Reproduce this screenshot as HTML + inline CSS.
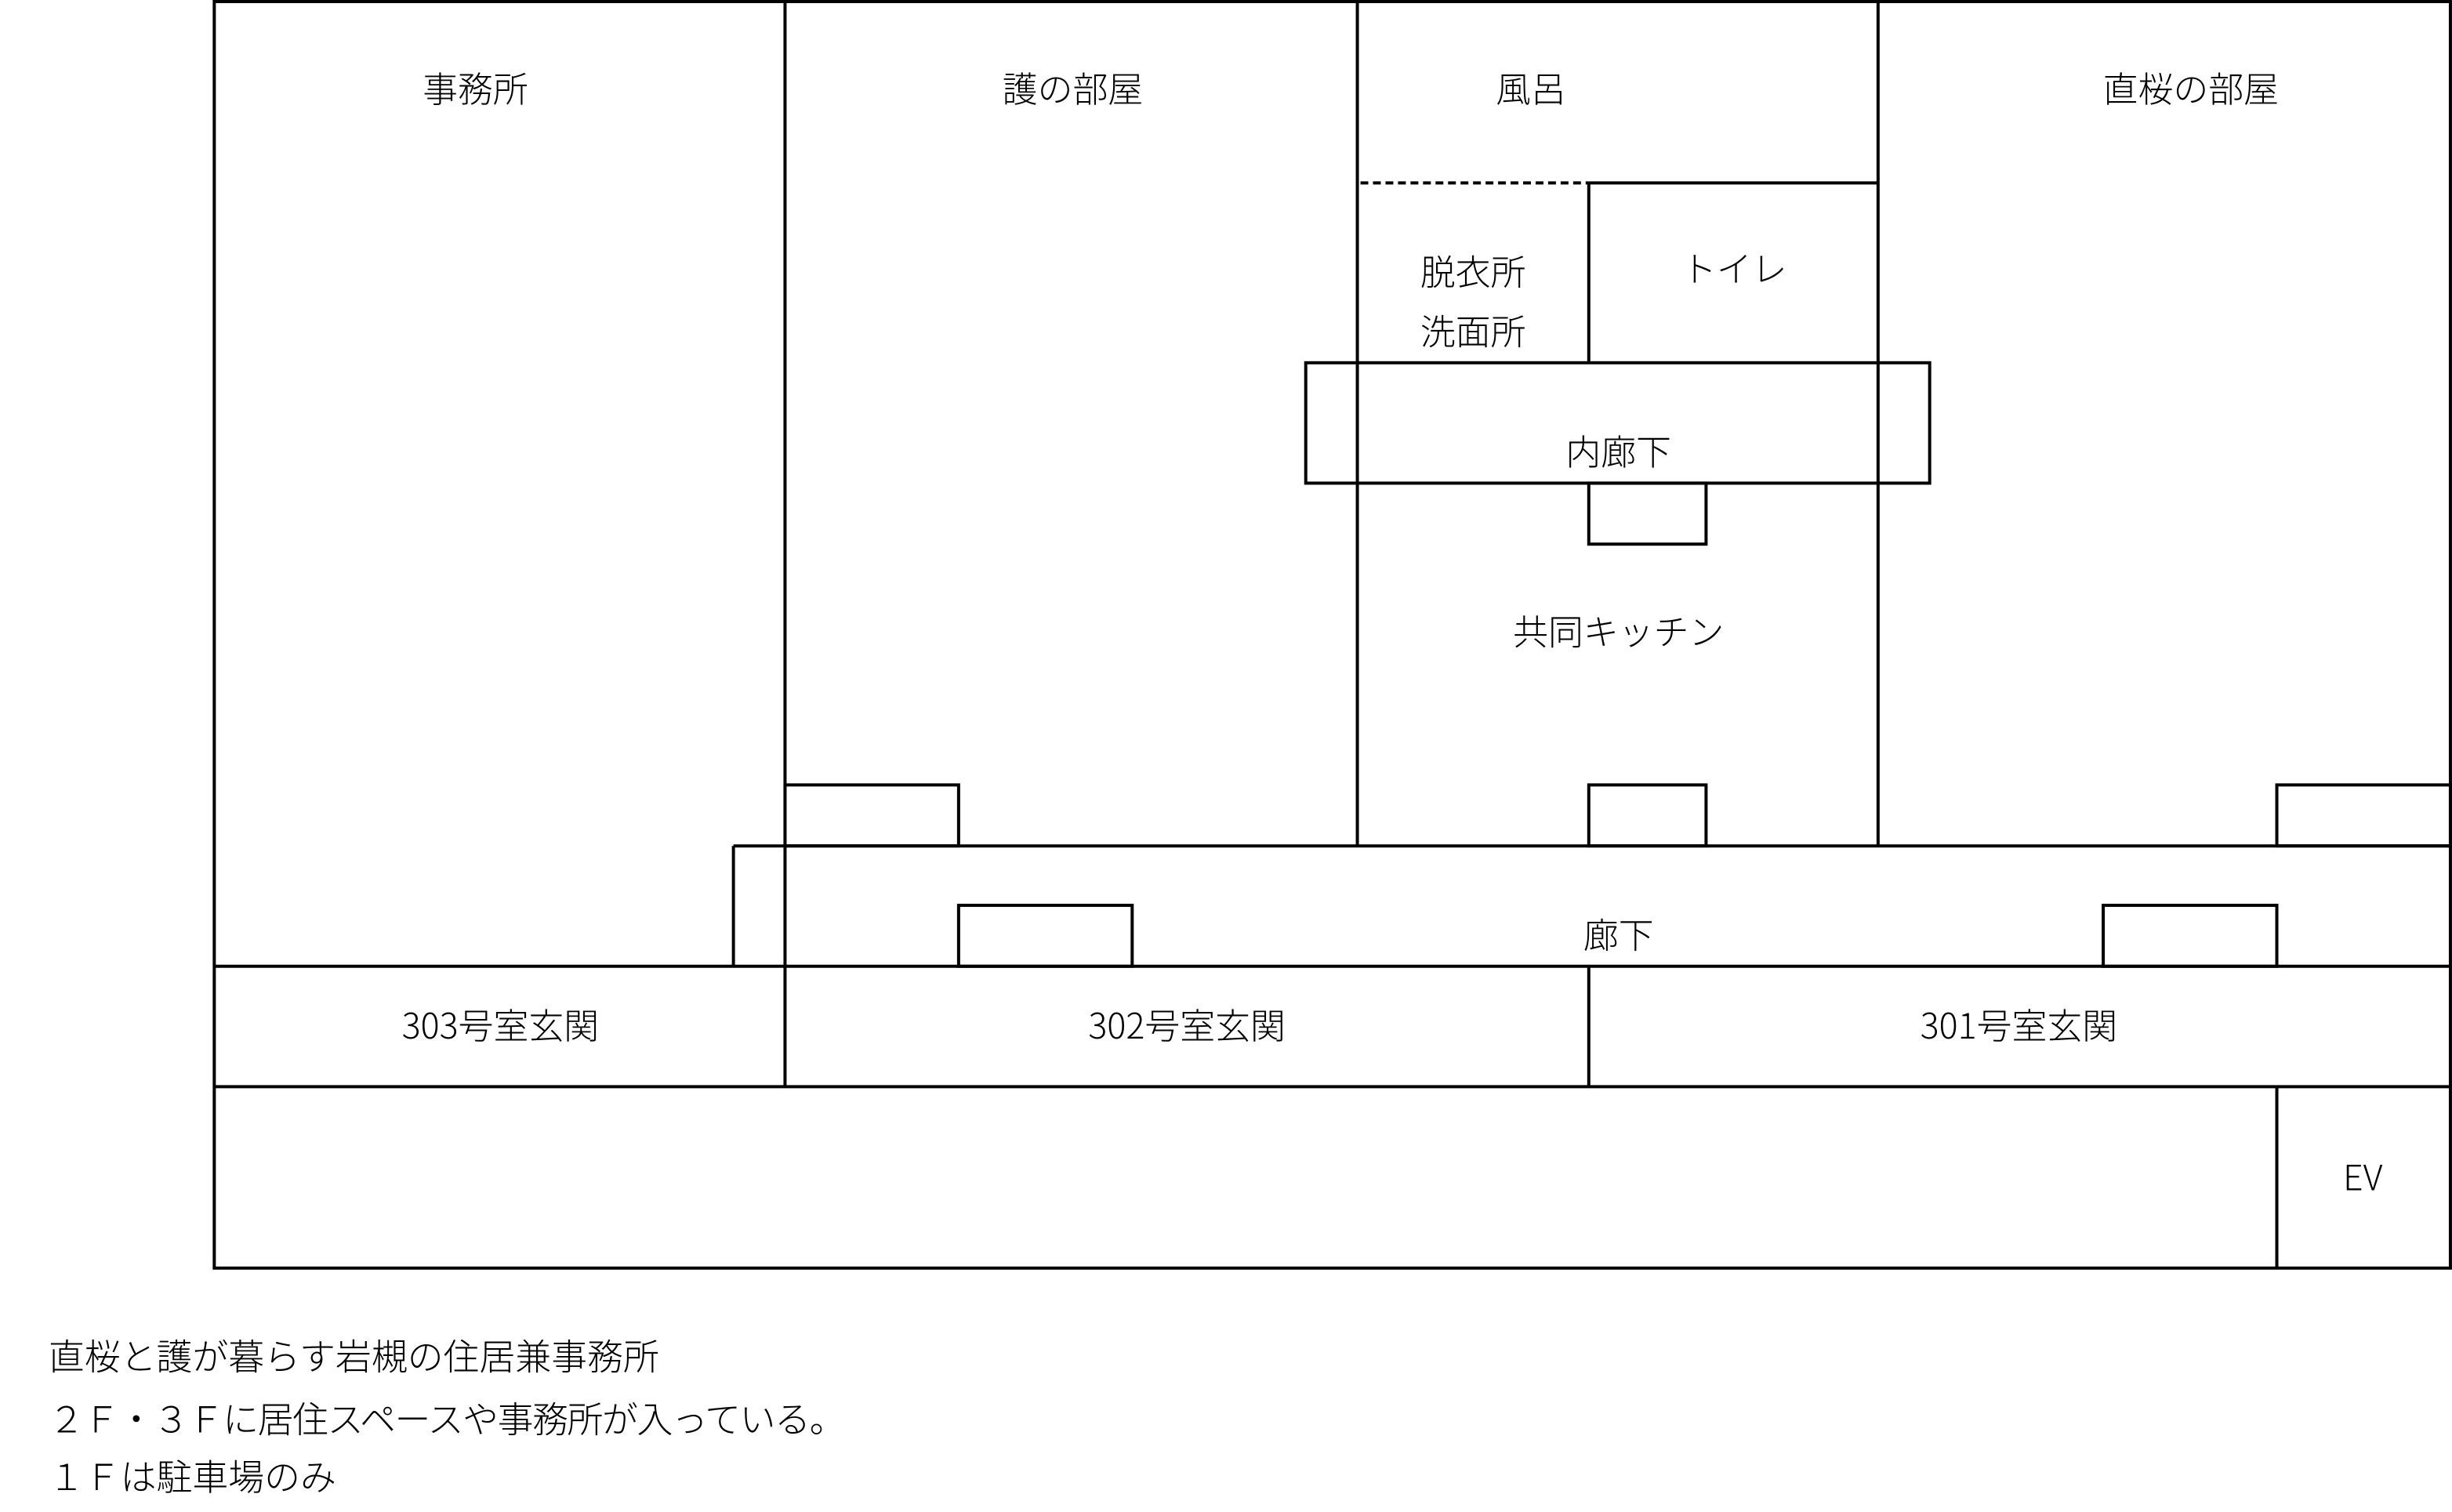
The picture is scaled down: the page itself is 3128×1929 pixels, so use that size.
<!DOCTYPE html>
<html><head><meta charset="utf-8"><style>html,body{margin:0;padding:0;background:#fff}svg{display:block}</style></head>
<body>
<svg width="3128" height="1929" viewBox="0 0 1568 967" xmlns="http://www.w3.org/2000/svg">
<g fill="none" stroke="#000" stroke-width="2">
<rect x="137" y="1" width="1430" height="810"/>
<line x1="502" y1="1" x2="502" y2="695"/>
<line x1="868" y1="1" x2="868" y2="541"/>
<line x1="1201" y1="1" x2="1201" y2="541"/>
<line x1="1016" y1="117" x2="1201" y2="117"/>
<line x1="870" y1="117" x2="1016" y2="117" stroke-dasharray="5,3"/>
<line x1="1016" y1="117" x2="1016" y2="232"/>
<rect x="835" y="232" width="399" height="77"/>
<rect x="1016" y="309" width="75" height="39"/>
<rect x="1016" y="502" width="75" height="39"/>
<rect x="502" y="502" width="111" height="39"/>
<rect x="1456" y="502" width="111" height="39"/>
<line x1="469" y1="541" x2="1567" y2="541"/>
<line x1="469" y1="541" x2="469" y2="618"/>
<line x1="137" y1="618" x2="1567" y2="618"/>
<rect x="613" y="579" width="111" height="39"/>
<rect x="1345" y="579" width="111" height="39"/>
<line x1="1016" y1="618" x2="1016" y2="695"/>
<line x1="137" y1="695" x2="1567" y2="695"/>
<line x1="1456" y1="695" x2="1456" y2="811"/>
</g>
<g font-family="'Noto Sans CJK JP','Liberation Sans',sans-serif" font-weight="300" font-size="22.5" fill="#000" text-anchor="middle" dominant-baseline="central">
<text x="304" y="55.5">事務所</text>
<text x="686" y="55.5">護の部屋</text>
<text x="979" y="55.5">風呂</text>
<text x="1401" y="55.5">直桜の部屋</text>
<text x="942" y="172.5">脱衣所</text>
<text x="942" y="210.5">洗面所</text>
<text x="1109" y="170.5">トイレ</text>
<text x="1035" y="287.5">内廊下</text>
<text x="1035" y="402.5">共同キッチン</text>
<text x="1035" y="596.5">廊下</text>
<text x="320" y="654.5">303号室玄関</text>
<text x="759" y="654.5">302号室玄関</text>
<text x="1291" y="654.5">301号室玄関</text>
<text x="1511" y="751.5">EV</text>
</g>
<g font-family="'Noto Sans CJK JP','Liberation Sans',sans-serif" font-weight="300" font-size="23" fill="#000" dominant-baseline="central">
<text x="31" y="866.5">直桜と護が暮らす岩槻の住居兼事務所</text>
<text x="31" y="906.5" letter-spacing="-0.7">２Ｆ・３Ｆに居住スペースや事務所が入っている。</text>
<text x="31" y="943.5">１Ｆは駐車場のみ</text>
</g>
</svg>
</body></html>
